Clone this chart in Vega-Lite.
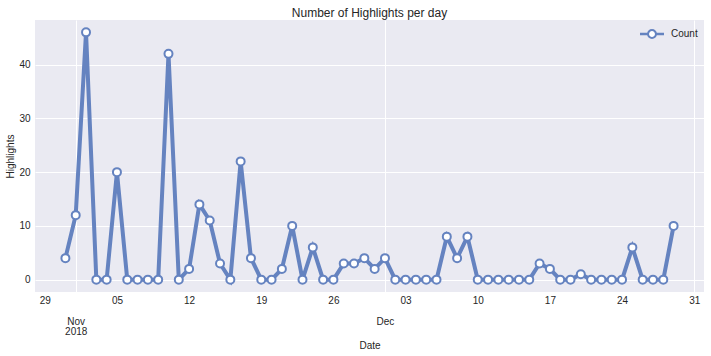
{
  "$schema": "https://vega.github.io/schema/vega-lite/v6.json",
  "width": 669,
  "height": 272,
  "autosize": {"type": "none"},
  "padding": {"left": 35, "top": 20, "right": 7, "bottom": 64},
  "background": "white",
  "title": {"text": "Number of Highlights per day", "fontSize": 12, "font": "Liberation Sans", "fontWeight": "normal", "color": "#262626", "offset": 0},
  "config": {"view": {"fill": "#EAEAF2", "stroke": null}, "font": "Liberation Sans"},
  "data": {"values": [
    {"date": "2018-10-31", "count": 4},
    {"date": "2018-11-01", "count": 12},
    {"date": "2018-11-02", "count": 46},
    {"date": "2018-11-03", "count": 0},
    {"date": "2018-11-04", "count": 0},
    {"date": "2018-11-05", "count": 20},
    {"date": "2018-11-06", "count": 0},
    {"date": "2018-11-07", "count": 0},
    {"date": "2018-11-08", "count": 0},
    {"date": "2018-11-09", "count": 0},
    {"date": "2018-11-10", "count": 42},
    {"date": "2018-11-11", "count": 0},
    {"date": "2018-11-12", "count": 2},
    {"date": "2018-11-13", "count": 14},
    {"date": "2018-11-14", "count": 11},
    {"date": "2018-11-15", "count": 3},
    {"date": "2018-11-16", "count": 0},
    {"date": "2018-11-17", "count": 22},
    {"date": "2018-11-18", "count": 4},
    {"date": "2018-11-19", "count": 0},
    {"date": "2018-11-20", "count": 0},
    {"date": "2018-11-21", "count": 2},
    {"date": "2018-11-22", "count": 10},
    {"date": "2018-11-23", "count": 0},
    {"date": "2018-11-24", "count": 6},
    {"date": "2018-11-25", "count": 0},
    {"date": "2018-11-26", "count": 0},
    {"date": "2018-11-27", "count": 3},
    {"date": "2018-11-28", "count": 3},
    {"date": "2018-11-29", "count": 4},
    {"date": "2018-11-30", "count": 2},
    {"date": "2018-12-01", "count": 4},
    {"date": "2018-12-02", "count": 0},
    {"date": "2018-12-03", "count": 0},
    {"date": "2018-12-04", "count": 0},
    {"date": "2018-12-05", "count": 0},
    {"date": "2018-12-06", "count": 0},
    {"date": "2018-12-07", "count": 8},
    {"date": "2018-12-08", "count": 4},
    {"date": "2018-12-09", "count": 8},
    {"date": "2018-12-10", "count": 0},
    {"date": "2018-12-11", "count": 0},
    {"date": "2018-12-12", "count": 0},
    {"date": "2018-12-13", "count": 0},
    {"date": "2018-12-14", "count": 0},
    {"date": "2018-12-15", "count": 0},
    {"date": "2018-12-16", "count": 3},
    {"date": "2018-12-17", "count": 2},
    {"date": "2018-12-18", "count": 0},
    {"date": "2018-12-19", "count": 0},
    {"date": "2018-12-20", "count": 1},
    {"date": "2018-12-21", "count": 0},
    {"date": "2018-12-22", "count": 0},
    {"date": "2018-12-23", "count": 0},
    {"date": "2018-12-24", "count": 0},
    {"date": "2018-12-25", "count": 6},
    {"date": "2018-12-26", "count": 0},
    {"date": "2018-12-27", "count": 0},
    {"date": "2018-12-28", "count": 0},
    {"date": "2018-12-29", "count": 10}
  ]},
  "encoding": {
    "x": {
      "field": "date", "type": "temporal",
      "scale": {"type": "utc", "domain": [
        {"year": 2018, "month": 10, "date": 28, "hours": 1, "minutes": 12, "utc": true},
        {"year": 2018, "month": 12, "date": 31, "hours": 22, "minutes": 48, "utc": true}
      ], "nice": false},
      "axis": {
        "title": "Date",
        "values": [
          {"year": 2018, "month": 10, "date": 29, "utc": true},
          {"year": 2018, "month": 11, "date": 1, "utc": true},
          {"year": 2018, "month": 11, "date": 5, "utc": true},
          {"year": 2018, "month": 11, "date": 12, "utc": true},
          {"year": 2018, "month": 11, "date": 19, "utc": true},
          {"year": 2018, "month": 11, "date": 26, "utc": true},
          {"year": 2018, "month": 12, "date": 1, "utc": true},
          {"year": 2018, "month": 12, "date": 3, "utc": true},
          {"year": 2018, "month": 12, "date": 10, "utc": true},
          {"year": 2018, "month": 12, "date": 17, "utc": true},
          {"year": 2018, "month": 12, "date": 24, "utc": true},
          {"year": 2018, "month": 12, "date": 31, "utc": true}
        ],
        "labelExpr": "utcdate(datum.value) == 1 ? (utcmonth(datum.value) == 10 ? ['\u200b', '\u200b', 'Nov', '2018'] : ['\u200b', '\u200b', 'Dec']) : utcFormat(datum.value, '%d')",
        "grid": true,
        "gridColor": "white",
        "gridWidth": 1,
        "gridOpacity": {"condition": {"test": "utcdate(datum.value) == 1 || utcdate(datum.value) == 31", "value": 1}, "value": 0},
        "ticks": false,
        "domain": false,
        "labelPadding": 3,
        "labelFontSize": 10,
        "labelLineHeight": 10.5,
        "labelOverlap": false,
        "labelFlush": false,
        "labelColor": "#262626",
        "titleColor": "#262626",
        "titleFontSize": 10,
        "titleFontWeight": "normal",
        "titlePadding": 4
      }
    },
    "y": {
      "field": "count", "type": "quantitative",
      "scale": {"domain": [-2.3, 48.3], "nice": false, "zero": false},
      "axis": {
        "title": "Highlights",
        "values": [0, 10, 20, 30, 40],
        "grid": true,
        "gridColor": "white",
        "gridWidth": 1,
        "ticks": false,
        "domain": false,
        "labelPadding": 5,
        "labelFontSize": 10,
        "labelColor": "#262626",
        "titleColor": "#262626",
        "titleFontSize": 10,
        "titleFontWeight": "normal",
        "titlePadding": 3
      }
    }
  },
  "layer": [
    {"mark": {"type": "line", "strokeWidth": 4, "color": "#6583C0"}},
    {
      "mark": {"type": "point", "shape": "circle", "filled": true, "fill": "white", "strokeWidth": 2, "size": 64, "opacity": 1},
      "encoding": {
        "stroke": {
          "datum": "Count",
          "scale": {"range": ["#6583C0"]},
          "legend": {
            "title": null,
            "orient": "none",
            "legendX": 605,
            "legendY": 2,
            "padding": 0,
            "labelOffset": 7,
            "labelFontSize": 10,
            "labelColor": "#262626",
            "symbolSize": 484,
            "symbolType": "M-1,-0.034L-0.4,-0.034L-0.4,0.034L-1,0.034Z M0.4,-0.034L1,-0.034L1,0.034L0.4,0.034Z M-0.36,0A0.36,0.36,0,1,1,0.36,0A0.36,0.36,0,1,1,-0.36,0Z",
            "symbolFillColor": "white",
            "symbolStrokeColor": "#6583C0",
            "symbolStrokeWidth": 2,
            "encode": {
              "symbols": {
                "update": {
                  "fill": {"value": "white"},
                  "stroke": {"value": "#6583C0"},
                  "strokeWidth": {"value": 2},
                  "opacity": {"value": 1},
                  "size": {"value": 484}
                }
              }
            }
          }
        }
      }
    }
  ]
}
